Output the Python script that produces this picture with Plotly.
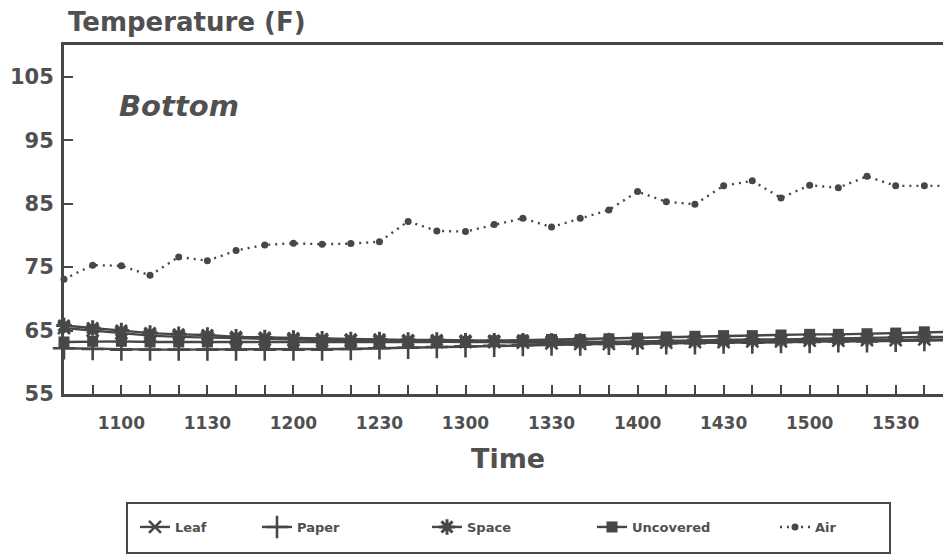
import plotly.graph_objects as go

# Readings every 10 minutes, 10:40 through 15:50
times = ["10:40", "10:50", "11:00", "11:10", "11:20", "11:30", "11:40", "11:50",
         "12:00", "12:10", "12:20", "12:30", "12:40", "12:50", "13:00", "13:10",
         "13:20", "13:30", "13:40", "13:50", "14:00", "14:10", "14:20", "14:30",
         "14:40", "14:50", "15:00", "15:10", "15:20", "15:30", "15:40", "15:50"]

leaf = [65.4, 65.0, 64.6, 64.2, 64.0, 63.9, 63.7, 63.6, 63.5, 63.4, 63.4, 63.3,
        63.3, 63.2, 63.2, 63.2, 63.1, 63.0, 62.9, 62.9, 63.0, 63.1, 63.2, 63.2,
        63.3, 63.3, 63.4, 63.4, 63.5, 63.5, 63.6, 63.6]
paper = [62.2, 62.1, 62.0, 62.0, 62.0, 62.0, 62.0, 62.0, 62.0, 62.0, 62.1, 62.2,
         62.3, 62.4, 62.5, 62.6, 62.7, 62.8, 62.8, 62.9, 62.9, 63.0, 63.0, 63.1,
         63.1, 63.2, 63.2, 63.3, 63.3, 63.4, 63.5, 63.5]
space = [65.8, 65.4, 65.0, 64.6, 64.4, 64.3, 64.0, 63.9, 63.8, 63.7, 63.6, 63.6,
         63.5, 63.5, 63.4, 63.4, 63.4, 63.3, 63.2, 63.2, 63.3, 63.4, 63.5, 63.5,
         63.6, 63.6, 63.7, 63.7, 63.8, 63.9, 64.0, 64.0]
uncovered = [63.2, 63.3, 63.3, 63.2, 63.2, 63.2, 63.1, 63.1, 63.1, 63.1, 63.1, 63.1,
             63.1, 63.2, 63.3, 63.4, 63.5, 63.6, 63.6, 63.7, 63.8, 64.0, 64.1, 64.2,
             64.2, 64.3, 64.4, 64.4, 64.5, 64.6, 64.8, 64.8]
air = [73.1, 75.3, 75.2, 73.7, 76.6, 76.0, 77.6, 78.5, 78.75, 78.6, 78.7, 79.0,
       82.2, 80.7, 80.6, 81.7, 82.7, 81.3, 82.7, 84.0, 86.9, 85.3, 84.9, 87.8,
       88.6, 85.9, 87.9, 87.5, 89.3, 87.8, 87.8, 87.8]

y_ticks = [55, 65, 75, 85, 95, 105]

INK = "#474747"
TXT = "#505050"
FONT = "DejaVu Sans"

x = ["2000-01-01 " + t for t in times]

# pixel geometry of the plot area inside the 943x559 page
L, T, B, W = 64, 45, 394, 943
PW, PH = W - L, B - T


def px_x(p):
    return (p - L) / PW


def px_y(p):
    return (B - p) / PH


fig = go.Figure()

series = [
    ("Leaf", leaf, dict(symbol="x-thin-open", size=12, line=dict(width=2.6, color=INK)), "legend"),
    ("Paper", paper, dict(symbol="cross-thin-open", size=16, line=dict(width=2.6, color=INK)), "legend2"),
    ("Space", space, dict(symbol="asterisk-open", size=13, line=dict(width=3, color=INK)), "legend3"),
    ("Uncovered", uncovered, dict(symbol="square", size=11, color=INK, line=dict(width=0)), "legend4"),
]
for name, vals, mk, lg in series:
    fig.add_trace(go.Scatter(
        x=x, y=vals, name=name, mode="lines+markers",
        line=dict(color=INK, width=2.4), marker=mk,
        cliponaxis=False, legend=lg))

fig.add_trace(go.Scatter(
    x=x, y=air, name="Air", mode="lines+markers",
    line=dict(color=INK, width=2.4, dash="2px,5px"),
    marker=dict(symbol="circle", size=7, color=INK),
    cliponaxis=False, legend="legend5"))

legend_style = dict(
    orientation="h", xanchor="left", yanchor="middle", y=px_y(527),
    bgcolor="rgba(0,0,0,0)", borderwidth=0,
    font=dict(family=FONT, size=13, color=TXT, weight="bold"),
    itemwidth=30,
)
text_starts = {"legend": 175, "legend2": 297, "legend3": 467, "legend4": 632, "legend5": 815}
legends = {k: dict(legend_style, x=px_x(v - 40)) for k, v in text_starts.items()}

fig.update_layout(
    width=943, height=559,
    margin=dict(l=L, r=0, t=T, b=559 - B),
    paper_bgcolor="white", plot_bgcolor="white",
    showlegend=True,
    **legends,
    xaxis=dict(
        type="date",
        range=["2000-01-01 10:40", "2000-01-01 15:46:30"],
        tick0="2000-01-01 11:00", dtick=30 * 60 * 1000,
        tickformat="%H%M",
        ticks="inside", ticklen=9, tickwidth=2, tickcolor=INK,
        minor=dict(dtick=10 * 60 * 1000, tick0="2000-01-01 10:40",
                   ticks="inside", ticklen=9, tickwidth=2, tickcolor=INK),
        showline=True, linecolor=INK, linewidth=3, mirror=True,
        showgrid=False, zeroline=False,
        tickfont=dict(family=FONT, size=17, color=TXT, weight="bold"),
        ticklabelstandoff=12,
    ),
    yaxis=dict(
        range=[55, 110],
        tickvals=y_ticks,
        ticks="inside", ticklen=9, tickwidth=2, tickcolor=INK,
        showline=True, linecolor=INK, linewidth=3,
        showgrid=False, zeroline=False,
        tickfont=dict(family=FONT, size=21, color=TXT, weight="bold"),
        ticklabelstandoff=3,
    ),
    shapes=[dict(
        type="rect", xref="paper", yref="paper",
        x0=px_x(127), x1=px_x(890), y0=px_y(553), y1=px_y(503),
        line=dict(color=INK, width=2), fillcolor="rgba(0,0,0,0)", layer="above",
    )],
    annotations=[
        dict(text="Temperature (F)", xref="paper", yref="paper",
             x=px_x(66), y=px_y(22), xanchor="left", yanchor="middle",
             showarrow=False,
             font=dict(family=FONT, size=26, color=TXT, weight="bold")),
        dict(text="Bottom", xref="paper", yref="paper",
             x=px_x(117), y=px_y(106), xanchor="left", yanchor="middle",
             showarrow=False,
             font=dict(family=FONT, size=29, color=TXT, weight="bold", style="italic")),
        dict(text="Time", xref="paper", yref="paper",
             x=px_x(508), y=px_y(458), xanchor="center", yanchor="middle",
             showarrow=False,
             font=dict(family=FONT, size=27, color=TXT, weight="bold")),
    ],
)

fig.write_html("out.html")
